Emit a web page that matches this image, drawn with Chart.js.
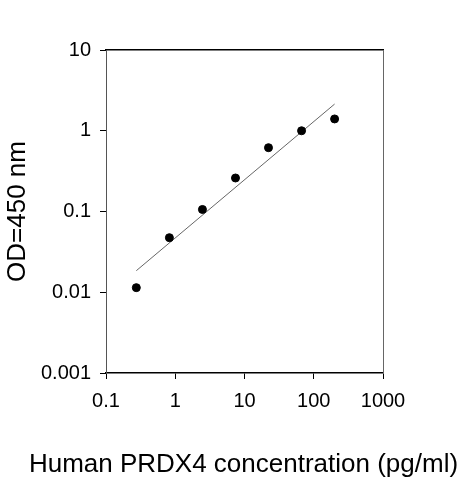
<!DOCTYPE html>
<html>
<head>
<meta charset="utf-8">
<script src="https://cdn.jsdelivr.net/npm/chart.js@4"></script>
<style>
  html, body { margin: 0; padding: 0; background: #fff; }
  #wrap { width: 463px; height: 480px; }
</style>
</head>
<body>
<div id="wrap"><canvas id="c" width="463" height="480"></canvas></div>
<script>
// Data
const concentrations = [0.274, 0.823, 2.47, 7.41, 22.2, 66.7, 200];
const odValues = [0.0114, 0.0474, 0.106, 0.26, 0.617, 1.0, 1.40];
const fitX = [0.274, 200];
const fitY = [0.0185, 2.14];
const xTicks = [0.1, 1, 10, 100, 1000];
const xTickLabels = ['0.1', '1', '10', '100', '1000'];
const yTicks = [0.001, 0.01, 0.1, 1, 10];
const yTickLabels = ['0.001', '0.01', '0.1', '1', '10'];
const xTitle = 'Human PRDX4 concentration (pg/ml)';
const yTitle = 'OD=450 nm';

const FONT = "'Liberation Sans', Arial, sans-serif";

new Chart(document.getElementById('c'), {
  type: 'scatter',
  data: {
    datasets: [
      {
        label: 'OD',
        data: concentrations.map((x, i) => ({x: x, y: odValues[i]})),
        backgroundColor: '#000',
        borderColor: '#000',
        pointRadius: 4,
        pointHoverRadius: 4,
        order: 1
      },
      {
        label: 'fit',
        type: 'line',
        data: fitX.map((x, i) => ({x: x, y: fitY[i]})),
        borderColor: '#666',
        borderWidth: 1,
        pointRadius: 0,
        fill: false,
        order: 2
      }
    ]
  },
  options: {
    responsive: false,
    animation: false,
    devicePixelRatio: 1,
    layout: { padding: { left: 24, right: 0, top: 0, bottom: 0 } },
    plugins: {
      legend: { display: false },
      tooltip: { enabled: false },
      title: {
        display: true,
        position: 'bottom',
        text: xTitle,
        color: '#000',
        font: { family: FONT, size: 26, weight: 'normal' },
        padding: { top: 0, bottom: 0 }
      }
    },
    scales: {
      x: {
        type: 'logarithmic',
        position: 'bottom',
        min: 0.1,
        max: 1000,
        afterBuildTicks: s => { s.ticks = xTicks.map(v => ({value: v})); },
        afterFit: s => { s.height = 75.8; },
        ticks: {
          autoSkip: false,
          maxRotation: 0,
          padding: 10,
          color: '#000',
          font: { family: FONT, size: 20 },
          callback: (v, i) => xTickLabels[i]
        },
        grid: { drawOnChartArea: false, drawTicks: true, tickLength: 6, color: '#000', tickWidth: 1 },
        border: { display: true, color: '#000', width: 1.5 }
      },
      x2: {
        type: 'linear',
        position: 'top',
        min: 0,
        max: 1,
        afterFit: s => { s.height = 50; },
        ticks: { display: false },
        grid: { display: false, drawOnChartArea: false, drawTicks: false },
        border: { display: true, color: '#000', width: 1.5 }
      },
      y: {
        type: 'logarithmic',
        position: 'left',
        min: 0.001,
        max: 10,
        afterBuildTicks: s => { s.ticks = yTicks.map(v => ({value: v})); },
        afterFit: s => { s.width = 82; },
        ticks: {
          autoSkip: false,
          padding: 9,
          color: '#000',
          font: { family: FONT, size: 20 },
          callback: (v, i) => yTickLabels[i]
        },
        grid: { drawOnChartArea: false, drawTicks: true, tickLength: 6, color: '#000', tickWidth: 1 },
        border: { display: true, color: '#555', width: 1 },
        title: {
          display: true,
          text: yTitle,
          color: '#000',
          font: { family: FONT, size: 26 },
          padding: { top: -21.6, bottom: 0 }
        }
      },
      y2: {
        type: 'linear',
        position: 'right',
        min: 0,
        max: 1,
        afterFit: s => { s.width = 80; },
        ticks: { display: false },
        grid: { display: false, drawOnChartArea: false, drawTicks: false },
        border: { display: true, color: '#666', width: 1 }
      }
    }
  }
});
</script>
</body>
</html>
